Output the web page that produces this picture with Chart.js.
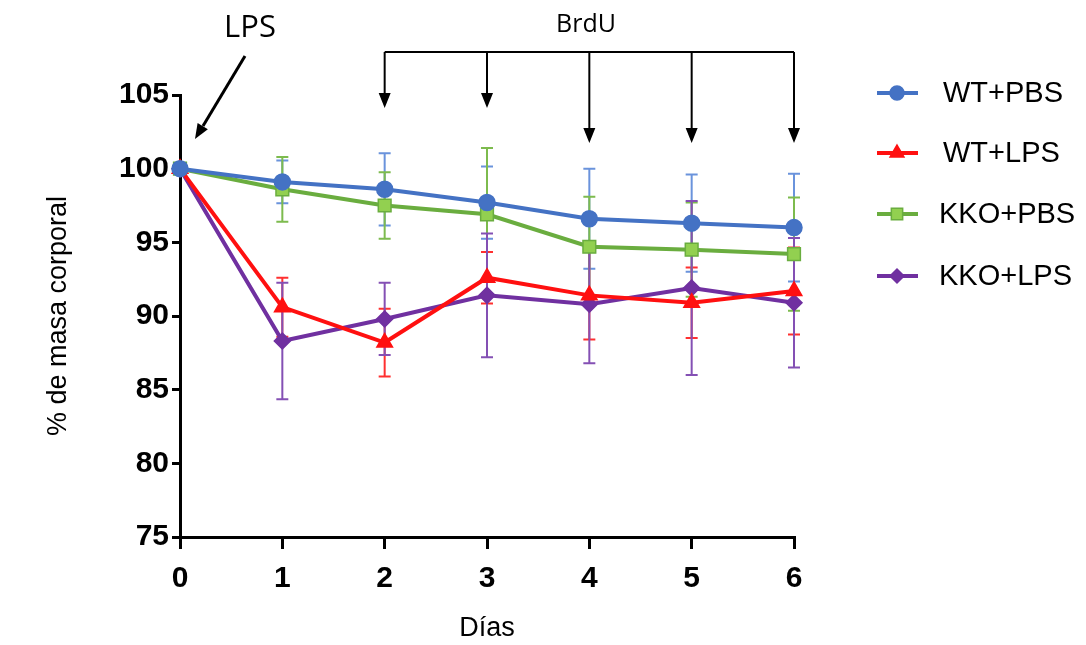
<!DOCTYPE html>
<html>
<head>
<meta charset="utf-8">
<script src="https://cdn.jsdelivr.net/npm/chart.js@4.4.1/dist/chart.umd.min.js"></script>
<style>
  html, body { margin:0; padding:0; background:#fff; }
  #wrap { width:1086px; height:645px; position:relative; }
</style>
</head>
<body>
<div id="wrap"><canvas id="mainChart" width="1086" height="645"></canvas></div>
<script>
// days and series (% body mass)
var dias = [0, 1, 2, 3, 4, 5, 6];
var yTicks = [75, 80, 85, 90, 95, 100, 105];

var wtPbs   = [100, 99.1, 98.6, 97.7, 96.6, 96.3, 96.0];
var wtPbsE  = [0, 1.45, 2.45, 2.45, 3.4, 3.3, 3.65];
var wtLps   = [100, 90.6, 88.2, 92.6, 91.4, 90.9, 91.7];
var wtLpsE  = [0, 2.0, 2.3, 1.75, 3.0, 2.4, 2.95];
var kkoPbs  = [100, 98.6, 97.5, 96.9, 94.7, 94.5, 94.2];
var kkoPbsE = [0, 2.2, 2.25, 4.5, 3.4, 3.2, 3.85];
var kkoLps  = [100, 88.3, 89.8, 91.4, 90.8, 91.9, 90.9];
var kkoLpsE = [0, 3.95, 2.45, 4.2, 4.0, 5.9, 4.4];

var brduDays = [2, 3, 4, 5, 6];

function pts(vals) {
  var out = [];
  for (var i in vals) out.push({x: dias[i], y: vals[i]});
  return out;
}

var series = [
  {label:'WT+PBS',  data:wtPbs,  err:wtPbsE,  line:'#4472c4', fill:'#4472c4', bar:'#6a93dc', style:'circle',   r:8},
  {label:'WT+LPS',  data:wtLps,  err:wtLpsE,  line:'#ff1010', fill:'#ff1010', bar:'#ff3030', style:'triangle', r:9},
  {label:'KKO+PBS', data:kkoPbs, err:kkoPbsE, line:'#6aad3f', fill:'#92d050', bar:'#7dbb4e', style:'rect',     r:9},
  {label:'KKO+LPS', data:kkoLps, err:kkoLpsE, line:'#7030a0', fill:'#7030a0', bar:'#8450b4', style:'rectRot',  r:8}
];

var datasets = [];
for (var s in series) {
  datasets.push({
    label: series[s].label,
    data: pts(series[s].data),
    borderColor: series[s].line,
    backgroundColor: series[s].fill,
    pointBackgroundColor: series[s].fill,
    pointBorderColor: series[s].line,
    pointBorderWidth: 1.5,
    pointStyle: series[s].style,
    pointRadius: series[s].r,
    borderWidth: 4,
    fill: false,
    clip: false,
    tension: 0
  });
}

var errorBars = {
  id: 'errorBars',
  beforeDatasetsDraw: function(chart) {
    var ctx = chart.ctx, xs = chart.scales.x, ys = chart.scales.y;
    ctx.save();
    ctx.lineWidth = 2;
    for (var s = 0; s < series.length; s++) {
      ctx.strokeStyle = series[s].bar;
      for (var i = 0; i < dias.length; i++) {
        var e = series[s].err[i];
        if (!e) continue;
        var x = xs.getPixelForValue(dias[i]);
        var hi = ys.getPixelForValue(series[s].data[i] + e);
        var lo = ys.getPixelForValue(series[s].data[i] - e);
        ctx.beginPath();
        ctx.moveTo(x, hi); ctx.lineTo(x, lo);
        ctx.moveTo(x - 6, hi); ctx.lineTo(x + 6, hi);
        ctx.moveTo(x - 6, lo); ctx.lineTo(x + 6, lo);
        ctx.stroke();
      }
    }
    ctx.restore();
  }
};

function arrowHead(ctx, x, y, ang) {
  // tip at x,y pointing in direction ang
  var len = 15, half = 6;
  ctx.beginPath();
  ctx.moveTo(x, y);
  ctx.lineTo(x - len * Math.cos(ang) + half * Math.sin(ang), y - len * Math.sin(ang) - half * Math.cos(ang));
  ctx.lineTo(x - len * Math.cos(ang) - half * Math.sin(ang), y - len * Math.sin(ang) + half * Math.cos(ang));
  ctx.closePath();
  ctx.fill();
}

var extras = {
  id: 'extras',
  afterDraw: function(chart) {
    var ctx = chart.ctx, xs = chart.scales.x;
    ctx.save();
    ctx.fillStyle = '#000';
    ctx.strokeStyle = '#000';

    // LPS annotation
    ctx.textAlign = 'center';
    ctx.textBaseline = 'middle';
    ctx.font = '31px "Open Sans", sans-serif';
    ctx.fillText('LPS', 250, 28);
    ctx.lineWidth = 3;
    ctx.beginPath();
    ctx.moveTo(245, 56); ctx.lineTo(203, 126);
    ctx.stroke();
    arrowHead(ctx, 195, 139, Math.atan2(139 - 56, 195 - 245));

    // BrdU bracket
    ctx.font = '25px "Open Sans", sans-serif';
    ctx.fillText('BrdU', 586, 25);
    ctx.lineWidth = 2;
    var top = 52;
    ctx.beginPath();
    ctx.moveTo(xs.getPixelForValue(brduDays[0]), top);
    ctx.lineTo(xs.getPixelForValue(brduDays[brduDays.length - 1]), top);
    ctx.stroke();
    for (var i = 0; i < brduDays.length; i++) {
      var x = xs.getPixelForValue(brduDays[i]);
      var tip = brduDays[i] < 4 ? 108 : 143;
      ctx.beginPath();
      ctx.moveTo(x, top); ctx.lineTo(x, tip - 10);
      ctx.stroke();
      arrowHead(ctx, x, tip, Math.PI / 2);
    }

    // legend
    var ly = [93, 153, 214, 276];
    ctx.textAlign = 'left';
    ctx.font = '29px "Liberation Sans", Arial, sans-serif';
    for (var s = 0; s < series.length; s++) {
      var y = ly[s];
      ctx.strokeStyle = series[s].line;
      ctx.lineWidth = 4;
      ctx.beginPath();
      ctx.moveTo(877, y); ctx.lineTo(918, y);
      ctx.stroke();
      ctx.fillStyle = series[s].fill;
      ctx.strokeStyle = series[s].line;
      ctx.lineWidth = 1.5;
      Chart.helpers.drawPoint(ctx, {pointStyle: series[s].style, radius: series[s].r - 1, borderWidth: 1.5}, 897, y);
      ctx.fillStyle = '#000';
      ctx.fillText(series[s].label, s < 2 ? 943 : 939, y + 1);
    }
    ctx.restore();
  }
};

var chart = new Chart(document.getElementById('mainChart'), {
  type: 'line',
  data: { datasets: datasets },
  plugins: [errorBars, extras],
  options: {
    responsive: false,
    animation: false,
    layout: { padding: { left: 0, right: 292, top: 95, bottom: 0 } },
    plugins: { legend: { display: false }, tooltip: { enabled: false } },
    scales: {
      x: {
        type: 'linear',
        min: 0, max: 6,
        afterFit: function(sc) { sc.height = 108; },
        afterBuildTicks: function(sc) { sc.ticks = dias.map(function(v){ return {value: v}; }); },
        border: { display: true, color: '#000', width: 3 },
        grid: { drawOnChartArea: false, drawTicks: true, tickLength: 12, color: '#000', lineWidth: 3 },
        ticks: { color: '#000', padding: 12, font: { family: '"Liberation Sans", Arial', size: 30, weight: 'bold' } },
        title: { display: true, text: 'Días', color: '#000', padding: { top: 0, bottom: 0 },
                 font: { family: '"Liberation Sans", Arial', size: 27 } }
      },
      y: {
        min: 75, max: 105,
        afterFit: function(sc) { sc.width = 180; },
        afterBuildTicks: function(sc) { sc.ticks = yTicks.map(function(v){ return {value: v}; }); },
        border: { display: true, color: '#000', width: 3 },
        grid: { drawOnChartArea: false, drawTicks: true, tickLength: 8, color: '#000', lineWidth: 3 },
        ticks: { color: '#000', padding: 3, font: { family: '"Liberation Sans", Arial', size: 30, weight: 'bold' } },
        title: { display: true, text: '% de masa corporal', color: '#000', padding: { top: 42, bottom: 0 },
                 font: { family: '"Liberation Sans", Arial', size: 27 } }
      }
    }
  }
});
</script>
</body>
</html>
